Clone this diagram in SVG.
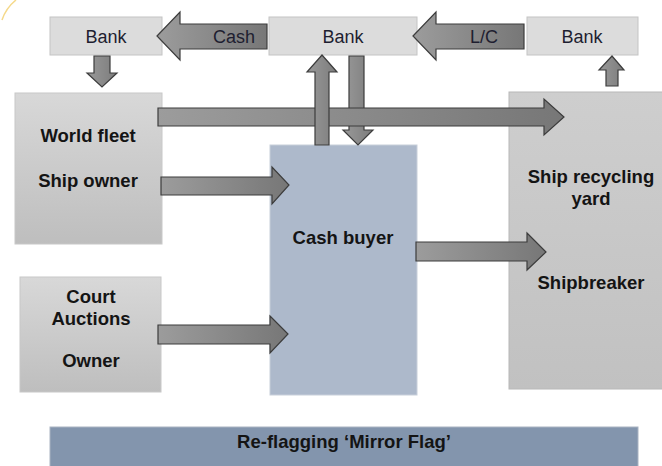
<svg xmlns="http://www.w3.org/2000/svg" width="662" height="466" viewBox="0 0 662 466">
<defs>
<linearGradient id="gBox" x1="0" y1="0" x2="0" y2="1"><stop offset="0" stop-color="#D8D8D8"/><stop offset="1" stop-color="#BEBEBE"/></linearGradient>
<linearGradient id="gYard" x1="0" y1="0" x2="0" y2="1"><stop offset="0" stop-color="#CECECE"/><stop offset="1" stop-color="#C1C1C1"/></linearGradient>
<linearGradient id="gArr" x1="0" y1="0" x2="1" y2="0"><stop offset="0" stop-color="#9C9C9C"/><stop offset="1" stop-color="#777777"/></linearGradient>
<linearGradient id="gArrV" x1="0" y1="0" x2="1" y2="0"><stop offset="0" stop-color="#999999"/><stop offset="1" stop-color="#7C7C7C"/></linearGradient>
</defs>
<style>
.bank{fill:#DCDCDC;stroke:#C4C4C4;stroke-width:1}
.box{fill:url(#gBox);stroke:#C8C8C8;stroke-width:1}
.arr{fill:url(#gArr);stroke:#3C3C3C;stroke-width:1.2;stroke-linejoin:miter}
.arrv{fill:url(#gArrV);stroke:#3C3C3C;stroke-width:1.2}
.t{font-family:"Liberation Sans",Arial,sans-serif;font-size:18px;fill:#1E1E30;text-anchor:middle}
.b{font-family:"Liberation Sans",Arial,sans-serif;font-size:18.5px;font-weight:bold;fill:#141414;text-anchor:middle}
</style>
<rect width="662" height="466" fill="#FFFFFF"/>
<path d="M2,20 Q6,8 16,0" fill="none" stroke="#F5D98A" stroke-width="1.5"/>

<g id="bank1"><rect class="bank" x="50" y="17" width="112" height="38"/><text class="t" x="106" y="43">Bank</text></g>
<g id="bank2"><rect class="bank" x="269" y="17" width="148" height="38"/><text class="t" x="343" y="43">Bank</text></g>
<g id="bank3"><rect class="bank" x="527" y="17" width="111" height="38"/><text class="t" x="582" y="43">Bank</text></g>

<g id="worldfleet"><rect class="box" x="15" y="93" width="147" height="151"/>
<text class="b" x="88" y="142">World fleet</text><text class="b" x="88" y="187">Ship owner</text></g>

<g id="court"><rect class="box" x="20" y="277" width="141" height="115"/>
<text class="b" x="91" y="303">Court</text><text class="b" x="91" y="325">Auctions</text><text class="b" x="91" y="367">Owner</text></g>

<g id="cashbuyer"><rect x="270" y="145" width="147" height="250" fill="#ADB9CB" stroke="#C8CFDA" stroke-width="1"/>
<text class="b" x="343" y="244">Cash buyer</text></g>

<g id="yard"><rect x="509" y="92" width="160" height="297" fill="url(#gYard)" stroke="#B8B8B8" stroke-width="1"/>
<text class="b" x="591" y="183">Ship recycling</text><text class="b" x="591" y="205">yard</text><text class="b" x="591" y="289">Shipbreaker</text></g>

<g id="reflag"><rect x="50" y="427" width="588" height="45" fill="#8395AD" stroke="#A9B3C2" stroke-width="1"/>
<text class="b" x="344" y="448">Re-flagging ‘Mirror Flag’</text></g>

<g id="connectors">
<polygon class="arr" points="157,36 180,12 180,24 267,24 267,49 180,49 180,60"/>
<text class="t" x="234" y="43">Cash</text>
<polygon class="arr" points="413,36 436,12 436,24 524,24 524,49 436,49 436,60"/>
<text class="t" x="484" y="43">L/C</text>
<polygon class="arrv" points="94,56 110,56 110,73 117,73 102,87 87,73 94,73"/>
<polygon class="arrv" points="349,56 364,56 364,130 373,130 358,145 343,130 349,130"/>
<polygon class="arr" points="158,108 544,108 544,99 564,117 544,135 544,126 158,126"/>
<polygon class="arrv" points="322,55 337,72 329,72 329,145 315,145 315,72 307,72"/>
<polygon class="arrv" points="612,56 624,70 618,70 618,86 606,86 606,70 599,70"/>
<polygon class="arr" points="161,177 272,177 272,167 289,185 272,204 272,195 161,195"/>
<polygon class="arr" points="158,325 270,325 270,316 288,334 270,353 270,344 158,344"/>
<polygon class="arr" points="416,242 527,242 527,233 546,252 527,270 527,261 416,261"/>
</g>
</svg>
